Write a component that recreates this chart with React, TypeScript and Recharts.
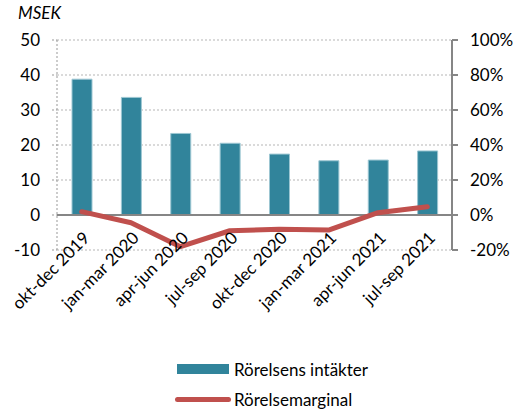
import {
  ComposedChart,
  Bar,
  Line,
  XAxis,
  YAxis,
  CartesianGrid,
  ReferenceLine,
  Legend,
} from 'recharts';

const categories = [
  'okt-dec 2019',
  'jan-mar 2020',
  'apr-jun 2020',
  'jul-sep 2020',
  'okt-dec 2020',
  'jan-mar 2021',
  'apr-jun 2021',
  'jul-sep 2021',
];
const intakter = [38.8, 33.6, 23.3, 20.5, 17.4, 15.5, 15.7, 18.3];
const marginal = [1.9, -4.4, -18.1, -9.0, -8.2, -8.6, 1.3, 4.7];
const leftTicks = [-10, 0, 10, 20, 30, 40, 50];
const rightTicks = [-20, 0, 20, 40, 60, 80, 100];

const BAR_COLOR = '#31849b';
const LINE_COLOR = '#c0504d';
const FONT = 'Lato, "Open Sans", sans-serif';

const data = categories.map((name, i) => ({
  name,
  intakter: intakter[i],
  marginal: marginal[i],
}));

// rotated category labels, Excel-style, hung off the zero line
// eslint-disable-next-line @typescript-eslint/no-explicit-any
function CategoryTick(props: any) {
  const { x, y, payload } = props;
  return (
    <g transform={`translate(${x + 9},${y - 19})`}>
      <text
        x={0}
        y={0}
        textAnchor="end"
        transform="rotate(-45)"
        fill="#000"
        fontSize={17}
        fontFamily={FONT}
      >
        {payload.value}
      </text>
    </g>
  );
}

function LegendBox() {
  return (
    <div style={{ fontFamily: FONT, fontSize: 17, color: '#000' }}>
      <div style={{ display: 'flex', alignItems: 'center', height: 30 }}>
        <span style={{ width: 52, height: 10, background: BAR_COLOR, marginRight: 5 }} />
        Rörelsens intäkter
      </div>
      <div style={{ display: 'flex', alignItems: 'center', height: 30 }}>
        <span
          style={{
            width: 56,
            height: 5,
            borderRadius: 3,
            background: LINE_COLOR,
            marginRight: 3,
            marginLeft: -2,
          }}
        />
        Rörelsemarginal
      </div>
    </div>
  );
}

export default function App() {
  return (
    <div style={{ position: 'absolute', left: 0, top: 0, width: 519, height: 410, background: '#fff' }}>
      <div
        style={{
          position: 'absolute',
          left: 18,
          top: 2,
          fontFamily: FONT,
          fontStyle: 'italic',
          fontSize: 17,
        }}
      >
        MSEK
      </div>
      <ComposedChart
        width={519}
        height={410}
        data={data}
        margin={{ top: 40, right: 0, left: 0, bottom: 150 }}
      >
        <CartesianGrid vertical={false} stroke="#b5b5b5" strokeDasharray="2 2" yAxisId="left" />
        <XAxis
          dataKey="name"
          axisLine={false}
          tickLine={false}
          interval={0}
          tick={<CategoryTick />}
          height={10}
        />
        <YAxis
          yAxisId="left"
          domain={[-10, 50]}
          ticks={leftTicks}
          width={57}
          axisLine={{ stroke: '#999', strokeDasharray: '2 2' }}
          tickLine={{ stroke: '#999', strokeDasharray: '2 2' }}
          tickSize={5}
          tickMargin={12}
          tick={{ fill: '#000', fontSize: 17, fontFamily: FONT }}
        />
        <YAxis
          yAxisId="right"
          orientation="right"
          domain={[-20, 100]}
          ticks={rightTicks}
          width={67}
          tickFormatter={(v: number) => `${v}%`}
          axisLine={{ stroke: '#868686', strokeWidth: 2 }}
          tickLine={{ stroke: '#868686', strokeWidth: 2 }}
          tickSize={6}
          tickMargin={12}
          tick={{ fill: '#000', fontSize: 17, fontFamily: FONT, textAnchor: 'start' }}
        />
        <ReferenceLine yAxisId="left" y={0} stroke="#868686" strokeWidth={2} />
        <Bar
          yAxisId="left"
          dataKey="intakter"
          name="Rörelsens intäkter"
          fill={BAR_COLOR}
          stroke="#9cc6d2"
          strokeWidth={1}
          barSize={20}
          isAnimationActive={false}
        />
        <Line
          yAxisId="right"
          dataKey="marginal"
          name="Rörelsemarginal"
          type="linear"
          stroke={LINE_COLOR}
          strokeWidth={5}
          strokeLinecap="round"
          strokeLinejoin="round"
          dot={false}
          activeDot={false}
          isAnimationActive={false}
        />
        <Legend
          layout="horizontal"
          verticalAlign="middle"
          align="center"
          wrapperStyle={{ top: 354, left: 177, width: 260 }}
          content={<LegendBox />}
        />
      </ComposedChart>
    </div>
  );
}
